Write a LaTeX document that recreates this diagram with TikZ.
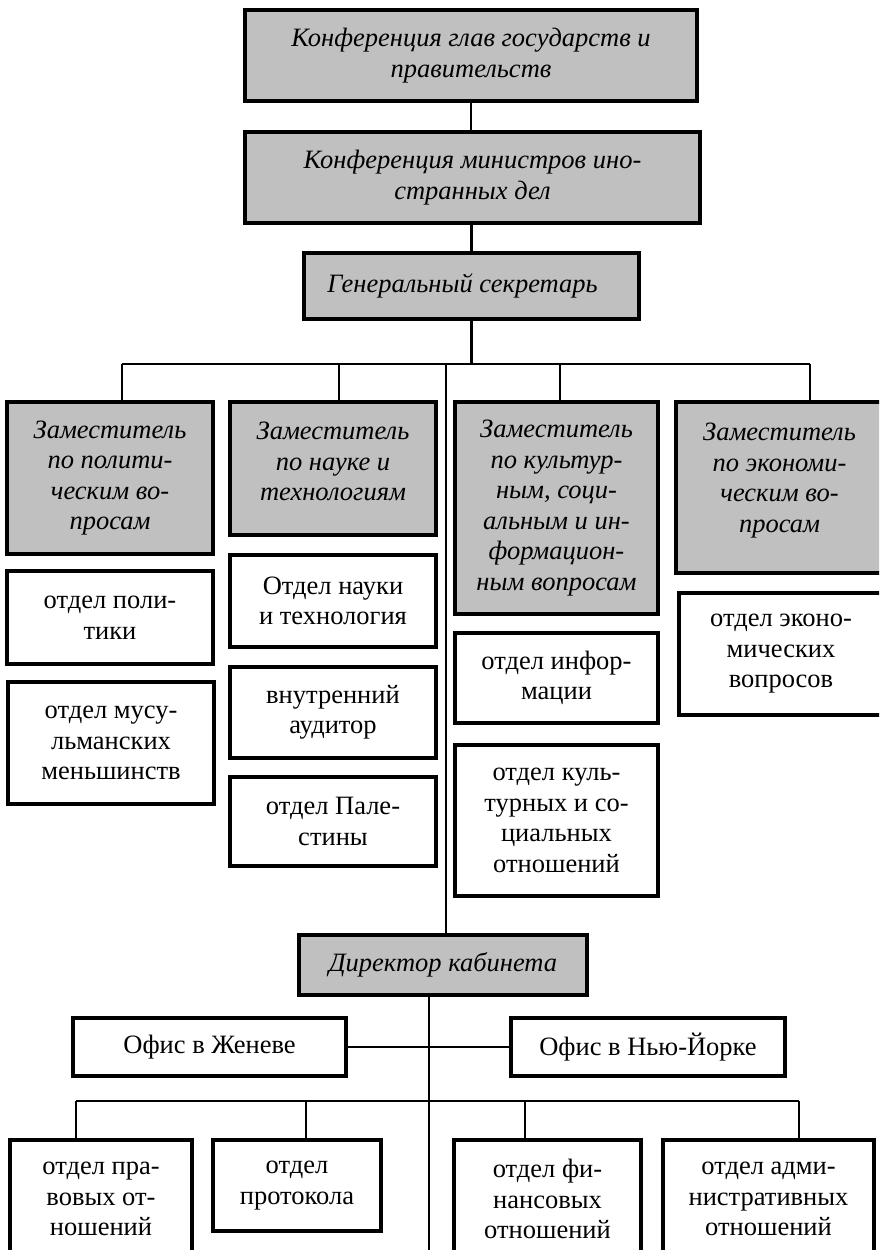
\documentclass[tikz,border=0pt]{standalone}
\usepackage{fontspec}
\setmainfont{Liberation Serif}
\definecolor{boxgray}{HTML}{C0C0C0}
\newcommand{\dnx}[1]{\rule[-#1]{0pt}{#1}}
\begin{document}
\begin{tikzpicture}[x=1pt,y=-1pt,
  box/.style={draw, line width=3.3pt, inner sep=2pt, align=center,
    font=\fontsize{26.5}{30.5}\selectfont},
  gbox/.style={box, fill=boxgray, font=\fontsize{26.5}{30.5}\selectfont\itshape},
  wbox/.style={box, fill=white},
  conn/.style={line width=2.8pt}]
\useasboundingbox (0,0) rectangle (879,1250);
\clip (0,0) rectangle (879,1250);
\fill[white] (0,0) rectangle (879,1250);

% top chain
\node[gbox, minimum width=452pt, minimum height=91pt] (B1) at (471,55.5)
  {Конференция глав государств и\\правительств};
\node[gbox, minimum width=455pt, minimum height=91pt] (B2) at (472.5,177.5)
  {Конференция министров ино-\\странных дел};
\node[gbox, minimum width=335pt, minimum height=66pt] (GS) at (471.5,286)
  {Генеральный секретарь\hspace{18pt}};

% deputies
\node[gbox, minimum width=206pt, minimum height=152pt] (D1) at (110,478)
  {Заместитель\\по полити-\\ческим во-\\просам};
\node[gbox, minimum width=206pt, minimum height=133pt] (D2) at (333,468.5)
  {Заместитель\\по науке и\\технологиям\dnx{14pt}};
\node[gbox, minimum width=203pt, minimum height=212pt] (D3) at (556.5,508)
  {Заместитель\\по культур-\\ным, соци-\\альным и ин-\\формацион-\\ным вопросам};
\node[gbox, minimum width=207pt, minimum height=171pt] (D4) at (779.5,487.5)
  {Заместитель\\по экономи-\\ческим во-\\просам\dnx{20pt}};

% departments under deputies
\node[wbox, minimum width=206pt, minimum height=93pt] (S1a) at (110,617.5)
  {отдел поли-\\тики};
\node[wbox, minimum width=206pt, minimum height=122pt] (S1b) at (111,743)
  {отдел мусу-\\льманских\\меньшинств};
\node[wbox, minimum width=206pt, minimum height=92pt] (S2a) at (333,601)
  {Отдел науки\\и технология};
\node[wbox, minimum width=206pt, minimum height=91pt] (S2b) at (333,712.5)
  {внутренний\\аудитор};
\node[wbox, minimum width=206pt, minimum height=89pt] (S2c) at (333,821.5)
  {отдел Пале-\\стины};
\node[wbox, minimum width=203pt, minimum height=90pt] (S3a) at (556.5,678)
  {отдел инфор-\\мации};
\node[wbox, minimum width=203pt, minimum height=151pt] (S3b) at (556.5,820.5)
  {отдел куль-\\турных и со-\\циальных\\отношений};
\node[wbox, minimum width=204pt, minimum height=122pt] (S4) at (781,654)
  {отдел эконо-\\мических\\вопросов};

% director and offices
\node[gbox, minimum width=288pt, minimum height=60pt] (DIR) at (443,965)
  {Директор кабинета};
\node[wbox, minimum width=273pt, minimum height=58pt] (GEN) at (209.5,1047)
  {Офис в Женеве};
\node[wbox, minimum width=274pt, minimum height=58pt] (NY) at (648,1047)
  {Офис в Нью-Йорке};

% bottom departments
\node[wbox, minimum width=182pt, minimum height=118pt] (BA) at (101,1199)
  {отдел пра-\\вовых от-\\ношений};
\node[wbox, minimum width=168pt, minimum height=91pt] (BB) at (297,1185.5)
  {отдел\\протокола\dnx{4pt}};
\node[wbox, minimum width=187pt, minimum height=118pt] (BC) at (547.5,1199)
  {отдел фи-\\нансовых\\отношений};
\node[wbox, minimum width=211pt, minimum height=118pt] (BD) at (768.5,1199)
  {отдел адми-\\нистративных\\отношений};

% coordinates of buses
\coordinate (tb1) at (122,364);
\coordinate (tb2) at (339,364);
\coordinate (tbT) at (446,364);
\coordinate (tb3) at (560,364);
\coordinate (tb4) at (810,364);
\coordinate (lowT) at (429,1101);
\coordinate (lb1) at (76,1101);
\coordinate (lb2) at (306,1101);
\coordinate (lb3) at (525,1101);
\coordinate (lb4) at (799,1101);
\coordinate (lowEnd) at (429,1260);

% connectors
\draw[conn] (B1.south) -- (B1.south |- B2.north);
\draw[conn] (GS.north |- B2.south) -- (GS.north);
\draw[conn] (GS.south) -- (GS.south |- tb1);
\draw[conn] (tb1) -- (tb4);
\draw[conn] (tb1) -- (tb1 |- D1.north);
\draw[conn] (tb2) -- (tb2 |- D2.north);
\draw[conn] (tb3) -- (tb3 |- D3.north);
\draw[conn] (tb4) -- (tb4 |- D4.north);
\draw[conn] (tbT) -- (tbT |- DIR.north);
\draw[conn] (DIR.south -| lowT) -- (lowEnd);
\draw[conn] (GEN.east) -- (NY.west);
\draw[conn] (lb1) -- (lb4);
\draw[conn] (lb1) -- (lb1 |- BA.north);
\draw[conn] (lb2) -- (lb2 |- BB.north);
\draw[conn] (lb3) -- (lb3 |- BC.north);
\draw[conn] (lb4) -- (lb4 |- BD.north);
\end{tikzpicture}
\end{document}
